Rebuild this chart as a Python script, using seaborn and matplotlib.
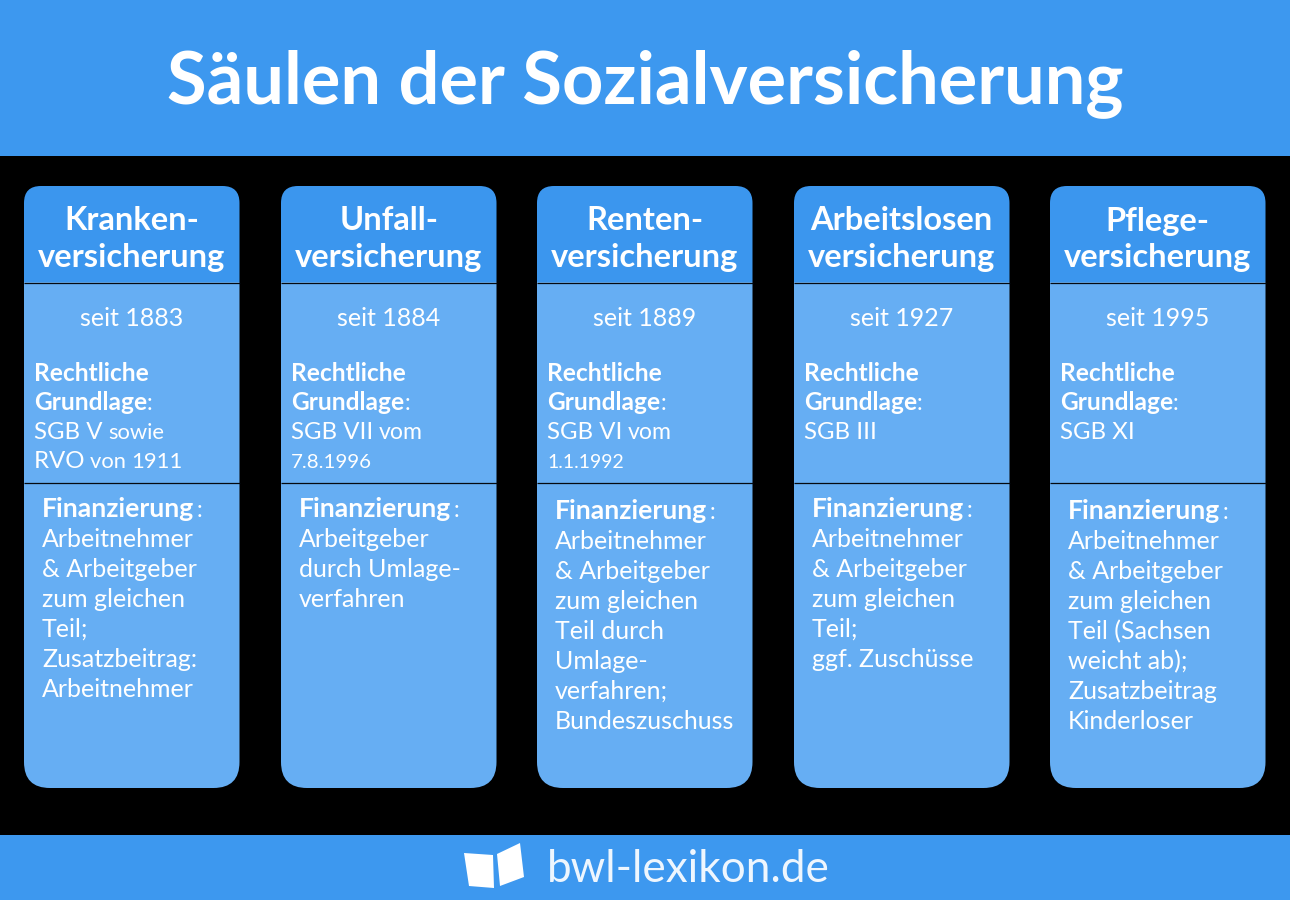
import matplotlib
matplotlib.use("Agg")
import matplotlib.pyplot as plt
from matplotlib.patches import FancyBboxPatch, Rectangle, Polygon
import seaborn as sns

sns.set_theme(style="white")
plt.rcParams['font.family'] = ['Lato', 'DejaVu Sans']

# Inhalte der Saeulen
title = "Säulen der Sozialversicherung"
footer = "bwl-lexikon.de"
heads = [["Kranken-", "versicherung"], ["Unfall-", "versicherung"], ["Renten-", "versicherung"],
         ["Arbeitslosen", "versicherung"], ["Pflege-", "versicherung"]]
since = ["seit 1883", "seit 1884", "seit 1889", "seit 1927", "seit 1995"]
legal = [[[("SGB V ", 24), ("sowie", 22)], [("RVO ", 24), ("von ", 22), ("1911", 22)]],
         [[("SGB VII ", 24), ("vom", 23)], [("7.8.1996", 20.5)]],
         [[("SGB VI ", 24), ("vom", 23)], [("1.1.1992", 19.5)]],
         [[("SGB III", 24)]],
         [[("SGB XI", 24)]]]
finance = [["Arbeitnehmer", "& Arbeitgeber", "zum gleichen", "Teil;", "Zusatzbeitrag:", "Arbeitnehmer"],
           ["Arbeitgeber", "durch Umlage-", "verfahren"],
           ["Arbeitnehmer", "& Arbeitgeber", "zum gleichen", "Teil durch", "Umlage-", "verfahren;", "Bundeszuschuss"],
           ["Arbeitnehmer", "& Arbeitgeber", "zum gleichen", "Teil;", "ggf. Zuschüsse"],
           ["Arbeitnehmer", "& Arbeitgeber", "zum gleichen", "Teil (Sachsen", "weicht ab);", "Zusatzbeitrag", "Kinderloser"]]
finance_y = [510, 510, 512, 510, 512]

DARK = "#3b96ee"
LIGHT = "#66aef3"

fig, ax = plt.subplots(figsize=(12.9, 9), dpi=100)
ax.set_position([0, 0, 1, 1])
ax.set_xlim(0, 1290)
ax.set_ylim(900, 0)
ax.axis("off")
fig.patch.set_facecolor("black")
sns.despine(ax=ax, left=True, bottom=True)

ax.add_patch(Rectangle((0, 0), 1290, 155.5, color="#3d98ef", lw=0))
ax.add_patch(Rectangle((0, 835), 1290, 65, color="#3d98ef", lw=0))
ax.text(645, 84, title, color="white", fontsize=52, fontweight="bold", ha="center", va="center")


def runs(x, y, parts, weight="normal"):
    # mehrere Schnipsel nebeneinander in einer Zeile
    r = fig.canvas.get_renderer()
    for s, size in parts:
        ax.text(x, y, s, color="white", fontsize=size * 0.72, fontweight=weight, va="baseline")
        # Leerzeichen am Ende zaehlen sonst nicht mit
        w = ax.text(0, 0, s.replace(" ", "i"), fontsize=size * 0.72, fontweight=weight, alpha=0)
        x += w.get_window_extent(r).width
        w.remove()
    return x


def column_part(x0, w, radius, y_from, y_to, color):
    # runde Kanten oben und unten sind verschieden, darum zwei Teile
    box = FancyBboxPatch((x0 + radius, 186 + radius), w - 2 * radius, 602 - 2 * radius,
                         boxstyle=f"round,pad={radius},rounding_size={radius}", color=color, lw=0)
    ax.add_patch(box)
    box.set_clip_path(Rectangle((x0 - 1, y_from), w + 2, y_to - y_from, transform=ax.transData))


lefts = [24, 281, 537, 794, 1050]
W = 215.5
for i, x0 in enumerate(lefts):
    column_part(x0, W, 26, 282, 790, LIGHT)
    column_part(x0, W, 17, 184, 282, DARK)
    ax.plot([x0, x0 + W], [282.5, 282.5], color="#050a10", lw=0.9, solid_capstyle="butt")
    ax.plot([x0, x0 + W], [482.5, 482.5], color="#050a10", lw=0.9, solid_capstyle="butt")

    cx = x0 + W / 2
    ax.text(cx, 221, heads[i][0], color="white", fontsize=23.5, fontweight="bold", ha="center", va="center")
    ax.text(cx, 258, heads[i][1], color="white", fontsize=23.5, fontweight="bold", ha="center", va="center")
    ax.text(cx, 319, since[i], color="white", fontsize=18, ha="center", va="center")

    tx = x0 + 10
    runs(tx, 381, [("Rechtliche", 24.5)], "bold")
    end = runs(tx, 410, [("Grundlage", 24.5)], "bold")
    runs(end, 410, [(":", 23)])
    for j, parts in enumerate(legal[i]):
        runs(tx, 439 + j * 29, parts)

    fx = x0 + 18
    fy = finance_y[i]
    end = runs(fx, fy + 7, [("Finanzierung", 26.5)], "bold")
    runs(end + 2, fy + 7, [(":", 23)])
    for j, line in enumerate(finance[i]):
        runs(fx, fy + 37 + j * 30, [(line, 25)])

# Logo: aufgeschlagenes Buch
ax.add_patch(Polygon([(464, 853), (493, 855), (494, 888), (469, 886)], color="white", lw=0))
ax.add_patch(Polygon([(497, 854), (520, 843), (524, 877), (500, 886)], color="white", lw=0))
ax.text(547, 869, footer, color="#eef6fe", fontsize=31.7, ha="left", va="center")

fig.savefig("out.png", dpi=100, facecolor="black")
